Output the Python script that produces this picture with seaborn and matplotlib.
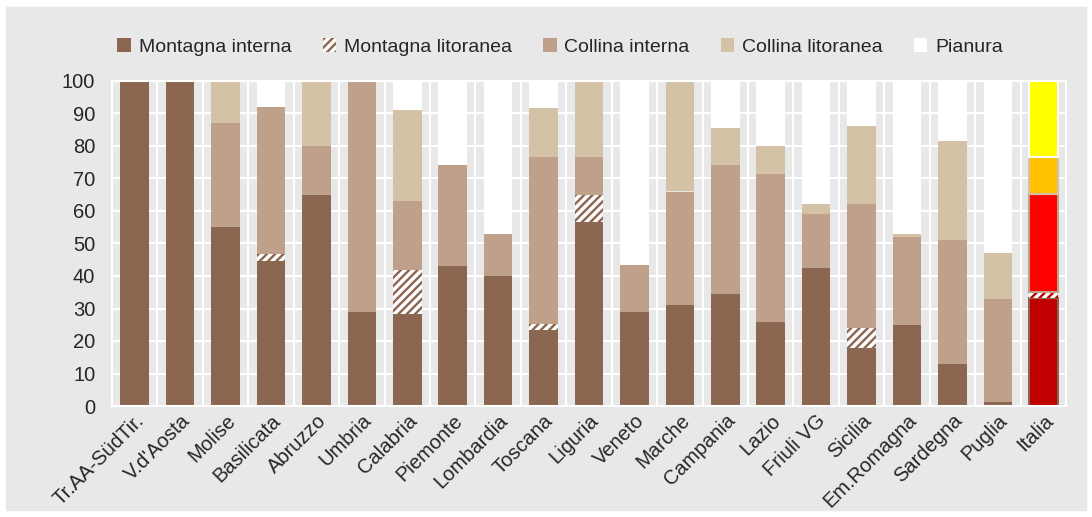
import numpy as np
import matplotlib
matplotlib.use("Agg")
import matplotlib.pyplot as plt
from matplotlib.patches import Patch, Rectangle
import seaborn as sns

regions = ["Tr.AA-SüdTir.", "V.d'Aosta", "Molise", "Basilicata", "Abruzzo", "Umbria",
           "Calabria", "Piemonte", "Lombardia", "Toscana", "Liguria", "Veneto", "Marche",
           "Campania", "Lazio", "Friuli VG", "Sicilia", "Em.Romagna", "Sardegna",
           "Puglia", "Italia"]
montagna_interna = [100, 100, 55, 44.7, 65, 29, 28.2, 43, 40, 23.4, 56.6, 29, 31, 34.5,
                    26, 42.5, 17.9, 25, 13, 1.2, 33.3]
montagna_litoranea = [0, 0, 0, 2, 0, 0, 13.6, 0, 0, 1.7, 8.4, 0, 0, 0,
                      0, 0, 6.2, 0, 0, 0, 1.9]
collina_interna = [0, 0, 32, 45.3, 15, 71, 21.2, 31, 13, 51.4, 11.5, 14.5, 35, 39.5,
                   45.5, 16.5, 38, 27, 38, 31.8, 30]
collina_litoranea = [0, 0, 13, 0, 20, 0, 28, 0, 0, 15.2, 23.5, 0, 34, 11.5,
                     8.5, 3, 24, 1, 30.5, 14, 11.5]
pianura = [100 - a - b - c - d for a, b, c, d in
           zip(montagna_interna, montagna_litoranea, collina_interna, collina_litoranea)]

series_names = ["Montagna interna", "Montagna litoranea", "Collina interna",
                "Collina litoranea", "Pianura"]
series_values = [montagna_interna, montagna_litoranea, collina_interna,
                 collina_litoranea, pianura]
colors = ["#8B6650", "#8B6650", "#BEA08B", "#D4C2A6", "#FFFFFF"]
italia_colors = ["#C00000", "#C00000", "#FF0000", "#FFC000", "#FFFF00"]
hatches = [None, "////", None, None, None]

sns.set_style("white")
plt.rcParams["font.family"] = ["Liberation Sans", "DejaVu Sans"]
plt.rcParams["hatch.linewidth"] = 2.5

fig = plt.figure(figsize=(10.92, 5.17), dpi=100)
fig.patches.append(Rectangle((6 / 1092, 7 / 517), 1080 / 1092, 503 / 517,
                             transform=fig.transFigure, color="#E8E8E8", zorder=-10))
ax = fig.add_axes([112 / 1092, 1 - 406 / 517, 954 / 1092, 325 / 517])
ax.set_facecolor("#E8E8E8")

bottom = np.zeros(len(regions))
for vals, col, icol, hatch in zip(series_values, colors, italia_colors, hatches):
    n0 = len(ax.patches)
    sns.barplot(x=regions, y=vals, order=regions, color=col, saturation=1,
                width=0.63, bottom=bottom, errorbar=None, linewidth=0,
                edgecolor=col, ax=ax)
    new = ax.patches[n0:]
    for p in new:
        if hatch:
            p.set_hatch(hatch)
            p.set_edgecolor("white")
    it = new[-1]
    it.set_facecolor(icol)
    if not hatch:
        it.set_edgecolor(col)
        it.set_linewidth(1.5)
    bottom = bottom + np.array(vals)

ax.set_xlim(-0.5, len(regions) - 0.5)
ax.set_ylim(0, 100)
ax.set_yticks(range(0, 101, 10))
ax.set_xticks(np.arange(-0.5, len(regions), 1), minor=True)
ax.grid(axis="y", which="major", color="white", lw=1.5)
ax.grid(axis="x", which="minor", color="white", lw=1.5)
ax.set_axisbelow(True)
for s in ax.spines.values():
    s.set_color("white")
    s.set_linewidth(1.5)
ax.tick_params(which="both", length=0, labelsize=14.5)
ax.tick_params(axis="y", pad=12)
ax.set_xticks(range(len(regions)))
ax.set_xticklabels(regions, rotation=45, ha="right", rotation_mode="anchor")
ax.set_xlabel("")
ax.set_ylabel("")

handles = [Patch(facecolor=c, edgecolor="white" if h else c, hatch=h, lw=0)
           for c, h in zip(colors, hatches)]
ax.legend(handles, series_names, loc="center", bbox_to_anchor=(0.513, 0.909),
          bbox_transform=fig.transFigure, ncol=5, frameon=False, fontsize=14,
          handlelength=0.7, handleheight=0.7, handletextpad=0.4, columnspacing=1.6)

fig.savefig("out.png", dpi=100)
